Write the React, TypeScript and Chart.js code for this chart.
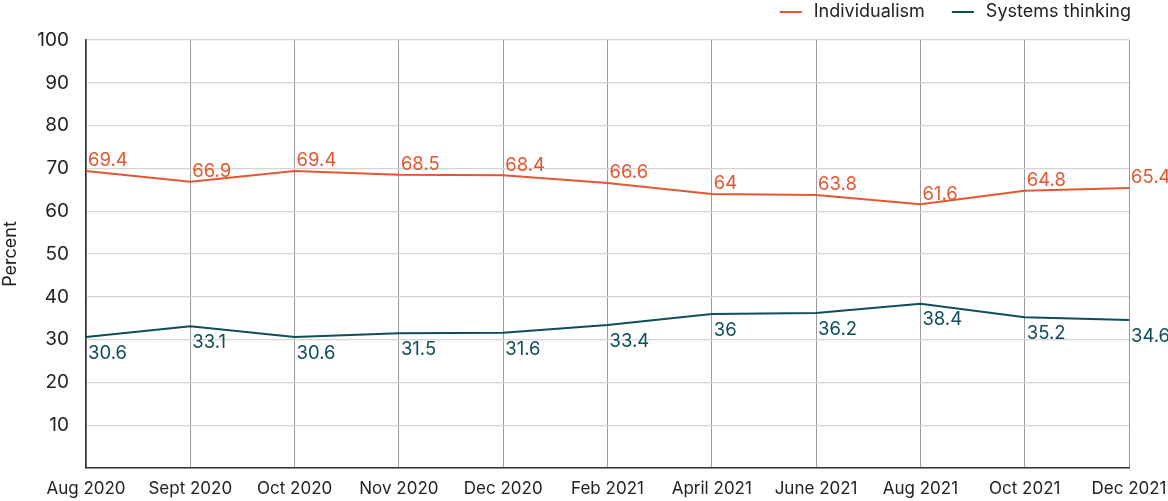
import React, { useEffect, useRef } from "react";
import { Chart, registerables } from "chart.js";

Chart.register(...registerables);

const categories = ["Aug 2020", "Sept 2020", "Oct 2020", "Nov 2020", "Dec 2020", "Feb 2021", "April 2021", "June 2021", "Aug 2021", "Oct 2021", "Dec 2021"];
const individualism = [69.4, 66.9, 69.4, 68.5, 68.4, 66.6, 64, 63.8, 61.6, 64.8, 65.4];
const systemsThinking = [30.6, 33.1, 30.6, 31.5, 31.6, 33.4, 36, 36.2, 38.4, 35.2, 34.6];
const yTicks = [10, 20, 30, 40, 50, 60, 70, 80, 90, 100];

const ORANGE = "#E4572E";
const TEAL = "#0E4D5A";
const FONT = "Inter, 'Liberation Sans', sans-serif";

const dataLabelPlugin = {
  id: "dataLabels",
  afterDatasetsDraw(chart: any) {
    const ctx = chart.ctx;
    ctx.save();
    ctx.font = `18.5px ${FONT}`;
    ctx.textAlign = "left";
    chart.data.datasets.forEach((ds: any, i: number) => {
      const meta = chart.getDatasetMeta(i);
      ctx.fillStyle = ds.borderColor;
      meta.data.forEach((pt: any, j: number) => {
        const v = ds.data[j];
        if (i === 0) {
          ctx.textBaseline = "bottom";
          ctx.fillText(String(v), pt.x + 2, pt.y - 1);
        } else {
          ctx.textBaseline = "top";
          ctx.fillText(String(v), pt.x + 2, pt.y + 7);
        }
      });
    });
    ctx.restore();
  },
};

const legendPlugin = {
  id: "customLegend",
  afterDraw(chart: any) {
    const ctx = chart.ctx;
    ctx.save();
    ctx.font = `18px ${FONT}`;
    ctx.textBaseline = "middle";
    ctx.textAlign = "left";
    const items = chart.data.datasets;
    let x = 1131;
    const y = 12;
    const widths = items.map((d: any) => ctx.measureText(d.label).width);
    const positions: number[] = [];
    for (let i = items.length - 1; i >= 0; i--) {
      const textX = x - widths[i];
      positions[i] = textX;
      x = textX - 12 - 22 - 27;
    }
    items.forEach((d: any, i: number) => {
      const tx = positions[i];
      ctx.strokeStyle = d.borderColor;
      ctx.lineWidth = 2;
      ctx.beginPath();
      ctx.moveTo(tx - 34, y);
      ctx.lineTo(tx - 12, y);
      ctx.stroke();
      ctx.fillStyle = "#222";
      ctx.fillText(d.label, tx, y);
    });
    ctx.restore();
  },
};

export default function App() {
  const ref = useRef<HTMLCanvasElement>(null);
  useEffect(() => {
    if (!ref.current) return;
    const chart = new Chart(ref.current, {
      type: "line",
      data: {
        labels: categories,
        datasets: [
          { label: "Individualism", data: individualism, borderColor: ORANGE, backgroundColor: ORANGE, borderWidth: 2, pointRadius: 0, tension: 0 },
          { label: "Systems thinking", data: systemsThinking, borderColor: TEAL, backgroundColor: TEAL, borderWidth: 2, pointRadius: 0, tension: 0 },
        ],
      },
      options: {
        animation: false,
        responsive: false,
        maintainAspectRatio: false,
        layout: { padding: { top: 40, right: 39, left: 0, bottom: 0 } },
        plugins: { legend: { display: false }, tooltip: { enabled: false } },
        scales: {
          x: {
            offset: false,
            grid: { color: "#9a9a9a", lineWidth: 1, drawTicks: false },
            border: { color: "#333", width: 1.5 },
            ticks: { color: "#222", font: { family: FONT, size: 17 }, padding: 11, maxRotation: 0, autoSkip: false },
            afterFit(scale: any) { scale.height = 33; scale.paddingRight = 0; },
          },
          y: {
            min: 0,
            max: 100,
            afterBuildTicks(scale: any) { scale.ticks = [{ value: 0 }, ...yTicks.map((v) => ({ value: v }))]; },
            grid: { color: "#d4d4d4", lineWidth: 1.2, drawTicks: false },
            border: { color: "#333", width: 1.5 },
            ticks: {
              color: "#222",
              font: { family: FONT, size: 19 },
              padding: 17,
              callback: (v: any) => (v === 0 ? "" : String(v)),
            },
            title: { display: true, text: "Percent", color: "#222", font: { family: FONT, size: 18 }, padding: 0 },
            afterFit(scale: any) { scale.width = 86; },
          },
        },
      },
      plugins: [dataLabelPlugin, legendPlugin],
    });
    return () => chart.destroy();
  }, []);
  return (
    <div style={{ position: "fixed", left: 0, top: 0, width: 1168, height: 501, background: "#fff" }}>
      <canvas ref={ref} width={1168} height={501} style={{ width: 1168, height: 501 }} />
    </div>
  );
}
